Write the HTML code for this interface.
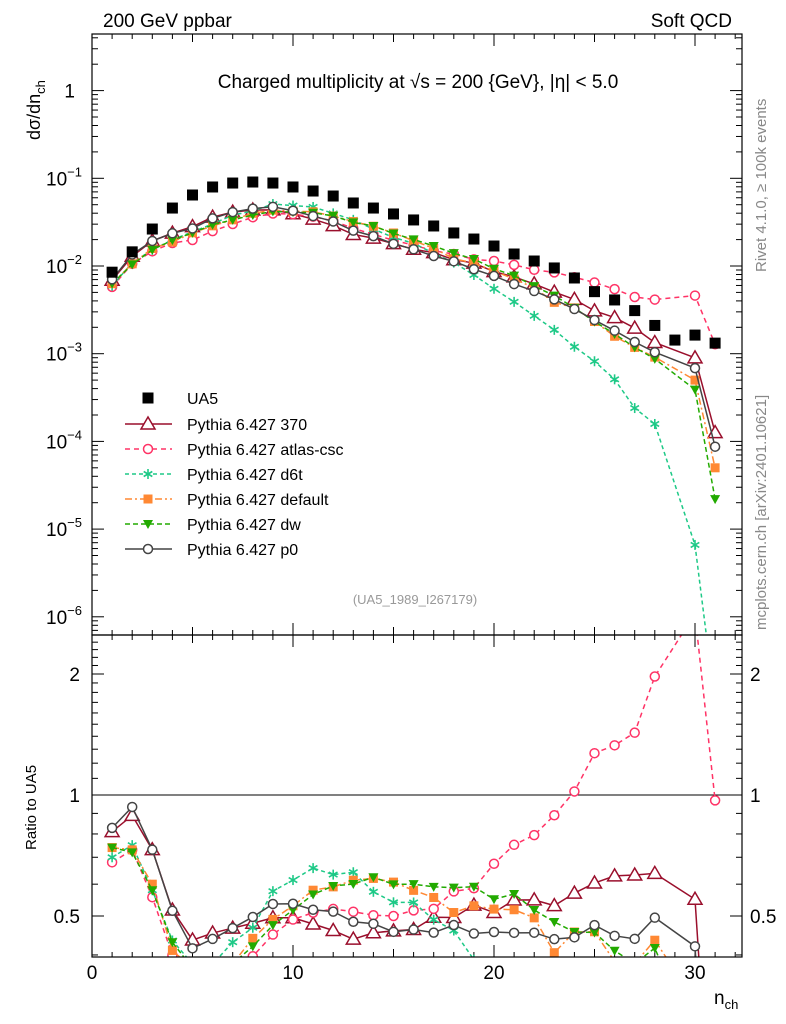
<!DOCTYPE html>
<html><head><meta charset="utf-8"><style>
html,body{margin:0;padding:0;background:#fff;overflow:hidden;width:786px;height:1024px;}
svg{display:block;font-family:"Liberation Sans",sans-serif;}
</style></head><body>
<svg id="chart" width="786" height="1024" viewBox="0 0 786 1024">
<defs>
<clipPath id="clipMain"><rect x="92" y="34" width="650" height="601"/></clipPath>
<clipPath id="clipRatio"><rect x="92" y="635" width="650" height="322"/></clipPath>
</defs>
<text x="103" y="27" font-size="19">200 GeV ppbar</text>
<text x="732" y="27" font-size="19" text-anchor="end">Soft QCD</text>
<text x="418" y="88" font-size="19" text-anchor="middle">Charged multiplicity at √s = 200 {GeV}, |η| &lt; 5.0</text>
<text transform="translate(40,140) rotate(-90)" font-size="18">dσ/dn<tspan font-size="13" dy="5">ch</tspan></text>
<text transform="translate(766,272) rotate(-90)" font-size="15" fill="#888">Rivet 4.1.0, ≥ 100k events</text>
<text transform="translate(766,630) rotate(-90)" font-size="15" fill="#888">mcplots.cern.ch [arXiv:2401.10621]</text>
<text x="415" y="604" font-size="13" fill="#999" text-anchor="middle">(UA5_1989_I267179)</text>
<text transform="translate(36,850) rotate(-90)" font-size="15">Ratio to UA5</text>
<text x="714" y="1004" font-size="19">n<tspan font-size="13" dy="5">ch</tspan></text>
<g id="axes"></g>
<g id="marks"></g>
<g id="legend"></g>
<rect x="92" y="34" width="650" height="601" fill="none" stroke="#000" stroke-width="1.2"/>
<rect x="92" y="635" width="650" height="322" fill="none" stroke="#000" stroke-width="1.2"/>
</svg>
<script>
const nch = [1,2,3,4,5,6,7,8,9,10,11,12,13,14,15,16,17,18,19,20,21,22,23,24,25,26,27,28,29,30,31];
const ua5 = [0.0085,0.0145,0.0264,0.0458,0.0645,0.0796,0.0883,0.0907,0.0883,0.0796,0.0716,0.0628,0.0523,0.0458,0.0392,0.0335,0.0286,0.0238,0.0203,0.0169,0.0137,0.0114,0.0095,0.0073,0.0051,0.0041,0.0031,0.0021,0.00143,0.00163,0.00132];
const py370 = [0.00689,0.0129,0.0193,0.0237,0.0281,0.0361,0.0412,0.0435,0.0437,0.0394,0.0342,0.0289,0.0229,0.0208,0.0180,0.0155,0.0142,0.0118,0.0108,0.00862,0.00751,0.00625,0.00504,0.00416,0.00308,0.00258,0.00196,0.00134,null,0.000897,0.000126];
const pyAtlas = [0.00578,0.01059,0.0147,0.0183,0.0198,0.025,0.0301,0.036,0.0397,0.0390,0.0365,0.0327,0.0268,0.0230,0.0196,0.0173,0.0149,0.0137,0.0119,0.0114,0.0103,0.00906,0.00846,0.00745,0.00648,0.00545,0.00443,0.00414,null,0.0046,0.00128];
const pyD6t = [0.00595,0.01088,0.0153,0.0199,0.0245,0.0302,0.038,0.0424,0.0509,0.0489,0.0471,0.0398,0.0336,0.0263,0.0212,0.0181,0.0140,0.01095,0.0079,0.0055,0.0039,0.0027,0.00187,0.0012,0.00082,0.00051,0.00024,0.000158,null,0.0000066,0.0000001];
const pyDefault = [0.00629,0.01059,0.01584,0.0188,0.0239,0.0287,0.0336,0.0399,0.0433,0.0422,0.0415,0.0371,0.0321,0.0284,0.0238,0.0194,0.0159,0.01214,0.01076,0.00879,0.0071,0.00564,0.00385,0.00333,0.00233,0.00158,0.00118,0.000914,null,0.0005,0.00005];
const pyDw = [0.00629,0.01044,0.0153,0.0197,0.0239,0.0295,0.0336,0.0381,0.0419,0.0412,0.0405,0.0373,0.0314,0.0286,0.0235,0.0201,0.0169,0.0140,0.0120,0.0093,0.00777,0.0059,0.00459,0.00333,0.00232,0.00168,0.00118,0.000874,null,0.00039,0.000022];
const pyP0 = [0.00704,0.01354,0.0193,0.0236,0.0268,0.0349,0.0412,0.0451,0.0473,0.0427,0.0371,0.0322,0.0253,0.0219,0.0179,0.0155,0.0130,0.0113,0.00918,0.00771,0.00622,0.00518,0.00416,0.00323,0.00242,0.00183,0.00136,0.00104,null,0.000685,0.000087];
const xTicks = [0,10,20,30];
const yTickExp = [0,-1,-2,-3,-4,-5,-6];
const ratioTicks = [0.5,1,2];

const NS = "http://www.w3.org/2000/svg";
const X = n => 92 + 20.1*n;
const Y = v => 266 - 87.7*(Math.log10(v)+2);
const R = r => 795 - 121*Math.log2(r);
function mk(tag, attrs, parent){const e=document.createElementNS(NS,tag);for(const k in attrs)e.setAttribute(k,attrs[k]);parent.appendChild(e);return e;}
const axes=document.getElementById('axes'), marks=document.getElementById('marks'), legend=document.getElementById('legend');

for(let n=0;n<=32;n++){
  const big = n%10===0, mid = n%5===0;
  const L = big?12:(mid?8:5);
  [[635,-1],[34,1],[957,-1],[635,1]].forEach(([y0,d])=>{
    const t=mk('line',{x1:X(n),x2:X(n),y1:y0,y2:y0+d*L,stroke:'#000','stroke-width':1},axes);
    
    
  });
}
xTicks.forEach(v=>{
  const t=mk('text',{x:X(v),y:979,'font-size':19,'text-anchor':'middle'},axes);
  t.textContent=v;
  
  
});
for(let e=-7;e<=0;e++){
  for(let m=1;m<10;m++){
    const v=m*Math.pow(10,e), y=Y(v);
    if(y<34||y>635)continue;
    const L=m===1?12:6;
    [[92,1],[742,-1]].forEach(([x0,d])=>{
      const t=mk('line',{x1:x0,x2:x0+d*L,y1:y,y2:y,stroke:'#000','stroke-width':1},axes);
      
      
    });
  }
}
yTickExp.forEach(e=>{
  const t=mk('text',{x:e===0?75:82,y:Y(Math.pow(10,e))+7,'font-size':19,'text-anchor':'end'},axes);
  if(e===0){t.textContent='1';}
  else{t.textContent='10';const s=mk('tspan',{dy:-9,'font-size':13},t);s.textContent=String(e).replace('-','−');}
  
  
});
for(let r=0.4;r<=2.5;r+=0.1){
  const rr=Math.round(r*10)/10, y=R(rr);
  if(y<635||y>957)continue;
  const L=(rr===0.5||rr===1||rr===2)?12:6;
  [[92,1],[742,-1]].forEach(([x0,d])=>{
    const t=mk('line',{x1:x0,x2:x0+d*L,y1:y,y2:y,stroke:'#000','stroke-width':1},axes);
    
    
  });
}
ratioTicks.forEach(r=>{
  [[80,'end'],[750,'start']].forEach(([x,a])=>{
    const t=mk('text',{x:x,y:R(r)+7,'font-size':19,'text-anchor':a},axes);
    t.textContent=String(r);
    
    
  });
});
const ref=mk('line',{x1:92,x2:742,y1:R(1),y2:R(1),stroke:'#000','stroke-width':1},axes);



function marker(g,type,x,y,col){
  if(type==='square') return mk('rect',{x:x-5.5,y:y-5.5,width:11,height:11,fill:col},g);
  if(type==='sqsmall') return mk('rect',{x:x-4.5,y:y-4.5,width:9,height:9,fill:col},g);
  if(type==='tri') return mk('polygon',{points:`${x},${y-7} ${x-7},${y+5} ${x+7},${y+5}`,fill:'#fff',stroke:col,'stroke-width':1.5},g);
  if(type==='tridown') return mk('polygon',{points:`${x-5},${y-4} ${x+5},${y-4} ${x},${y+5}`,fill:col},g);
  if(type==='circle') return mk('circle',{cx:x,cy:y,r:4.5,fill:'#fff',stroke:col,'stroke-width':1.5},g);
  if(type==='star'){const g2=mk('g',{stroke:col,'stroke-width':1.6},g);
    [[0,5],[4.3,2.5],[4.3,-2.5]].forEach(([dx,dy])=>mk('line',{x1:x-dx,y1:y-dy,x2:x+dx,y2:y+dy},g2));return g2;}
}
const series=[
  {name:'Pythia 6.427 370',key:'370',data:py370,col:'#9a0f2c',dash:'',m:'tri'},
  {name:'Pythia 6.427 atlas-csc',key:'atlas-csc',data:pyAtlas,col:'#ff3366',dash:'5,4',m:'circle'},
  {name:'Pythia 6.427 d6t',key:'d6t',data:pyD6t,col:'#1ec987',dash:'4,3',m:'star'},
  {name:'Pythia 6.427 default',key:'default',data:pyDefault,col:'#ff8833',dash:'7,3,2,3',m:'sqsmall'},
  {name:'Pythia 6.427 dw',key:'dw',data:pyDw,col:'#22aa00',dash:'5,3',m:'tridown'},
  {name:'Pythia 6.427 p0',key:'p0',data:pyP0,col:'#444444',dash:'',m:'circle'}
];
const gMain=mk('g',{'clip-path':'url(#clipMain)'},marks);
const gRatio=mk('g',{'clip-path':'url(#clipRatio)'},marks);
series.forEach(s=>{
  const pts=[],rpts=[];
  nch.forEach((n,i)=>{const v=s.data[i];if(v==null)return;pts.push([X(n),Y(v)]);rpts.push([X(n),R(v/ua5[i])]);});
  const l=mk('polyline',{points:pts.map(p=>p.join(',')).join(' '),fill:'none',stroke:s.col,'stroke-width':1.5,'stroke-dasharray':s.dash},gMain);
  
  
  const rl=mk('polyline',{points:rpts.map(p=>p.join(',')).join(' '),fill:'none',stroke:s.col,'stroke-width':1.5,'stroke-dasharray':s.dash},gRatio);
  
  
  pts.forEach(p=>{const e=marker(gMain,s.m,p[0],p[1],s.col);
    
    });
  rpts.forEach(p=>{const e=marker(gRatio,s.m,p[0],p[1],s.col);
    
    });
});
nch.forEach((n,i)=>{const e=marker(gMain,'square',X(n),Y(ua5[i]),'#000');
  
  });

const legY=[398,424,449,474,499,524,549];
const items=[{name:'UA5',col:'#000',m:'square',dash:null}].concat(series);
items.forEach((s,i)=>{
  const g=mk('g',{},legend);
  
  
  const y=legY[i];
  if(s.dash!==null) mk('line',{x1:125,x2:172,y1:y,y2:y,stroke:s.col,'stroke-width':1.5,'stroke-dasharray':s.dash},g);
  marker(g,s.m,148,y,s.col);
  const t=mk('text',{x:187,y:y+6,'font-size':16},g);
  t.textContent=s.name;
});
</script>
</body></html>
